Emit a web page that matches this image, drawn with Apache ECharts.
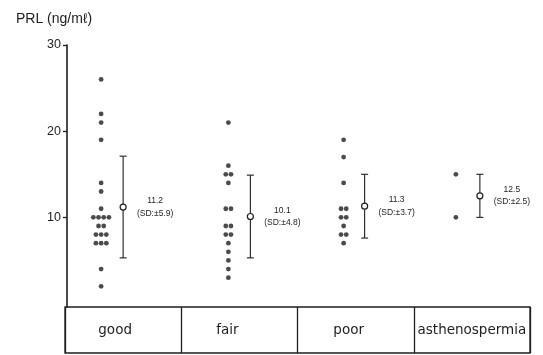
<!DOCTYPE html>
<html>
<head>
<meta charset="utf-8">
<script src="https://cdn.jsdelivr.net/npm/echarts@6/dist/echarts.min.js"></script>
<style>html,body{margin:0;padding:0;background:#fff}#c{width:543px;height:355px}</style>
</head>
<body>
<div id="c"></div>
<script>
// ---- data ----
var categories = ['good', 'fair', 'poor', 'asthenospermia'];
var goodValues = [26, 22, 21, 19, 14, 13, 11, 10, 10, 10, 10, 9, 9, 8, 8, 8, 7, 7, 7, 4, 2];
var fairValues = [21, 16, 15, 15, 14, 11, 11, 9, 9, 8, 8, 7, 6, 5, 4, 3];
var poorValues = [19, 17, 14, 11, 11, 10, 10, 9, 8, 8, 7];
var asthValues = [15, 10];
var means = [11.2, 10.1, 11.3, 12.5];
var sds = [5.9, 4.8, 3.7, 2.5];
var yTicks = [10, 20, 30];
var yTitle = 'PRL (ng/m\u2113)';

// ---- layout (pixels) ----
var dotShift = [-22, -11, -12, -16];
var barShift = [0, 11, 9, 8];
var labelShift = [-8, -12, -7, 0];
var dotGap = 5.2;
var ink = '#1e1e1e';

var groups = [goodValues, fairValues, poorValues, asthValues];
var dotData = [];
groups.forEach(function (vals, g) {
  var counts = {}, seen = {};
  vals.forEach(function (v) { counts[v] = (counts[v] || 0) + 1; });
  vals.forEach(function (v) {
    var k = seen[v] || 0; seen[v] = k + 1;
    var dx = dotShift[g] + (k - (counts[v] - 1) / 2) * dotGap;
    dotData.push({ value: [g, v], symbolOffset: [dx, 0] });
  });
});
var barData = means.map(function (m, i) { return [i, m, sds[i]]; });

var rich = {};
categories.forEach(function (c, i) {
  rich['c' + i] = { fontFamily: 'DejaVu Sans', fontSize: 13.5, color: ink, padding: [0, -2 * labelShift[i], 0, 0] };
});

var chart = echarts.init(document.getElementById('c'));
chart.setOption({
  animation: false,
  backgroundColor: '#fff',
  title: {
    text: yTitle, left: 11, top: 7,
    textStyle: { fontFamily: 'Liberation Sans', fontSize: 14, fontWeight: 'normal', color: ink }
  },
  grid: [
    { left: 65, right: 13, top: 45, bottom: 48 },
    { left: 65, right: 13, top: 307, bottom: 2, show: true, borderColor: ink, borderWidth: 1.3, backgroundColor: 'transparent' }
  ],
  xAxis: [
    { type: 'category', gridIndex: 0, data: categories, show: false },
    {
      type: 'category', gridIndex: 1, data: categories,
      axisLine: { show: false }, axisTick: { show: false },
      splitLine: { show: true, interval: 0, lineStyle: { color: ink, width: 1.3 } },
      axisLabel: {
        interval: 0, margin: -23, verticalAlign: 'middle',
        formatter: function (v, i) { return '{c' + i + '|' + v + '}'; },
        rich: rich
      }
    }
  ],
  yAxis: [
    {
      type: 'value', gridIndex: 0, min: -0.4, max: 30, offset: -2,
      axisLine: { show: true, lineStyle: { color: ink, width: 1.6 } },
      axisTick: { show: true, length: 4, customValues: yTicks, lineStyle: { color: ink, width: 1.3 } },
      axisLabel: { customValues: yTicks, margin: 6, fontFamily: 'Liberation Sans', fontSize: 12.5, color: ink },
      splitLine: { show: false }
    },
    { type: 'value', gridIndex: 1, show: false }
  ],
  series: [
    {
      type: 'scatter', xAxisIndex: 0, yAxisIndex: 0,
      symbol: 'circle', symbolSize: 4.8,
      itemStyle: { color: ink },
      data: dotData
    },
    {
      type: 'custom', xAxisIndex: 0, yAxisIndex: 0,
      encode: { x: 0, y: 1 },
      data: barData,
      renderItem: function (params, api) {
        var i = api.value(0), m = api.value(1), s = api.value(2);
        var c = api.coord([i, m]);
        var hi = api.coord([i, m + s]);
        var lo = api.coord([i, m - s]);
        var x = c[0] + barShift[i];
        var ls = { stroke: ink, lineWidth: 1.1 };
        return {
          type: 'group',
          children: [
            { type: 'line', shape: { x1: x, y1: hi[1], x2: x, y2: lo[1] }, style: ls },
            { type: 'line', shape: { x1: x - 3.5, y1: hi[1], x2: x + 3.5, y2: hi[1] }, style: ls },
            { type: 'line', shape: { x1: x - 3.5, y1: lo[1], x2: x + 3.5, y2: lo[1] }, style: ls },
            { type: 'circle', shape: { cx: x, cy: c[1], r: 3 }, style: { fill: '#fff', stroke: ink, lineWidth: 1.2 } },
            {
              type: 'text',
              style: {
                text: m.toFixed(1) + '\n(SD:\u00b1' + s.toFixed(1) + ')',
                x: x + 32, y: c[1],
                align: 'center', verticalAlign: 'middle',
                fontFamily: 'Liberation Sans', fontSize: 8.5, lineHeight: 12.5, fill: ink
              }
            }
          ]
        };
      }
    }
  ]
});
</script>
</body>
</html>
